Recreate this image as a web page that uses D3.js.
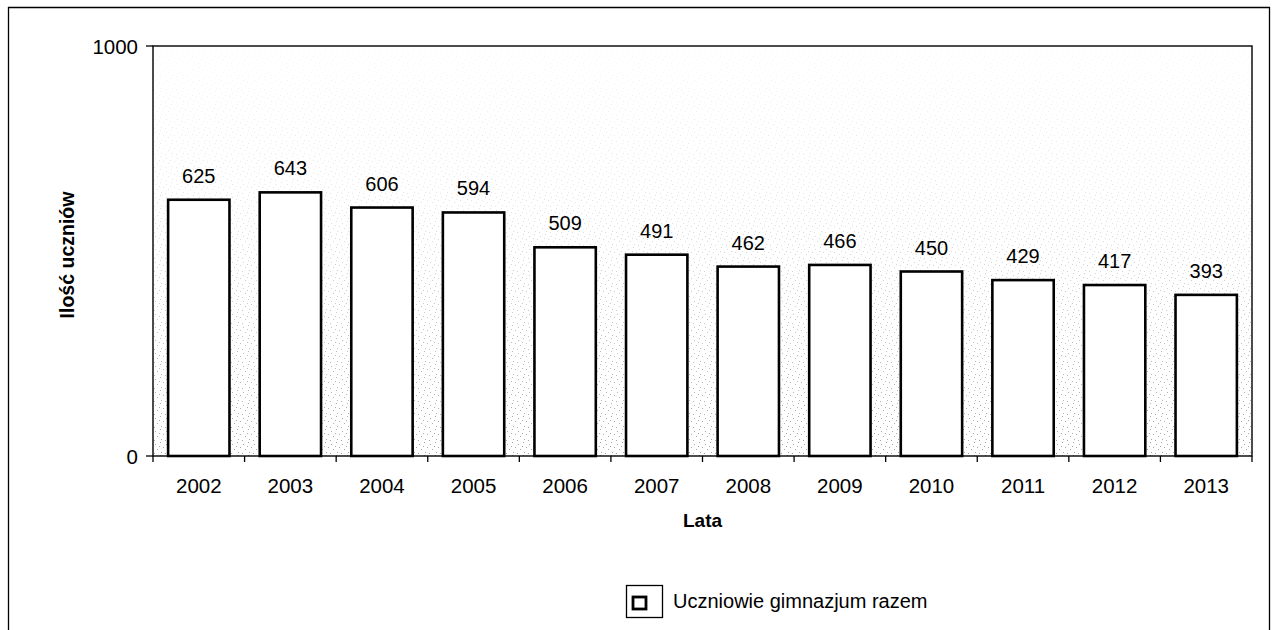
<!DOCTYPE html>
<html>
<head>
<meta charset="utf-8">
<script src="https://cdn.jsdelivr.net/npm/d3@7"></script>
<style>
  html, body { margin: 0; padding: 0; background: #fff; }
  svg { display: block; font-family: "Liberation Sans", Arial, sans-serif; }
</style>
</head>
<body>
<svg id="chart" width="1276" height="630"></svg>
<script>
const years = ["2002","2003","2004","2005","2006","2007","2008","2009","2010","2011","2012","2013"];
const students = [625, 643, 606, 594, 509, 491, 462, 466, 450, 429, 417, 393];
const yTicks = [0, 1000];
const seriesName = "Uczniowie gimnazjum razem";
const xTitle = "Lata";
const yTitle = "Ilość uczniów";

const svg = d3.select("#chart");
const W = 1276, H = 630;
const plot = { left: 153, right: 1252, top: 46, bottom: 456 };

const x = d3.scaleBand().domain(years).range([plot.left, plot.right]).paddingInner(0.33).paddingOuter(0.165);
const y = d3.scaleLinear().domain([0, 1000]).range([plot.bottom, plot.top]);

// outer frame (bottom edge outside the view)
svg.append("path")
  .attr("d", `M8.5,${H + 5} V7.5 H1269.5 V${H + 5}`)
  .attr("fill", "none").attr("stroke", "#000").attr("stroke-width", 1.3);

// stipple background
const defs = svg.append("defs");
const pat = defs.append("pattern").attr("id", "stip").attr("patternUnits", "userSpaceOnUse")
  .attr("width", 11).attr("height", 13);
const dots = [[1,2],[6,0],[9,5],[3,7],[7,10],[0,11],[5,4]];
pat.selectAll("rect").data(dots).join("rect")
  .attr("x", d => d[0]).attr("y", d => d[1]).attr("width", 1).attr("height", 1).attr("fill", "#9a9a9a");
const grad = defs.append("linearGradient").attr("id", "fadeg").attr("x1", 0).attr("x2", 0).attr("y1", 0).attr("y2", 1);
grad.append("stop").attr("offset", "0%").attr("stop-color", "#fff").attr("stop-opacity", 0.08);
grad.append("stop").attr("offset", "40%").attr("stop-color", "#fff").attr("stop-opacity", 0.3);
grad.append("stop").attr("offset", "100%").attr("stop-color", "#fff").attr("stop-opacity", 0.9);
const mask = defs.append("mask").attr("id", "fadem");
mask.append("rect").attr("x", plot.left).attr("y", plot.top)
  .attr("width", plot.right - plot.left).attr("height", plot.bottom - plot.top).attr("fill", "url(#fadeg)");
svg.append("rect").attr("x", plot.left).attr("y", plot.top)
  .attr("width", plot.right - plot.left).attr("height", plot.bottom - plot.top)
  .attr("fill", "url(#stip)").attr("mask", "url(#fadem)");

// plot frame
svg.append("rect").attr("x", plot.left).attr("y", plot.top)
  .attr("width", plot.right - plot.left).attr("height", plot.bottom - plot.top)
  .attr("fill", "none").attr("stroke", "#000").attr("stroke-width", 1.4);

// bars
svg.append("g").selectAll("rect").data(years).join("rect")
  .attr("x", (d) => x(d))
  .attr("y", (d, i) => y(students[i]))
  .attr("width", x.bandwidth())
  .attr("height", (d, i) => y(0) - y(students[i]))
  .attr("fill", "#fff").attr("stroke", "#000").attr("stroke-width", 2.6);

// value labels
svg.append("g").selectAll("text").data(years).join("text")
  .attr("x", d => x(d) + x.bandwidth() / 2)
  .attr("y", (d, i) => y(students[i]) - 17)
  .attr("text-anchor", "middle").attr("font-size", 20).attr("fill", "#000")
  .text((d, i) => students[i]);

// x axis ticks at band boundaries
const step = x.step();
const boundaries = d3.range(years.length + 1).map(i => plot.left + i * step);
svg.append("g").selectAll("line").data(boundaries).join("line")
  .attr("x1", d => d).attr("x2", d => d)
  .attr("y1", plot.bottom).attr("y2", plot.bottom + 6)
  .attr("stroke", "#000").attr("stroke-width", 1.3);
svg.append("g").selectAll("text").data(years).join("text")
  .attr("x", d => x(d) + x.bandwidth() / 2)
  .attr("y", 493)
  .attr("text-anchor", "middle").attr("font-size", 20.5).attr("fill", "#000")
  .text(d => d);

// y axis ticks
svg.append("g").selectAll("line").data(yTicks).join("line")
  .attr("x1", plot.left - 7).attr("x2", plot.left)
  .attr("y1", d => y(d)).attr("y2", d => y(d))
  .attr("stroke", "#000").attr("stroke-width", 1.3);
svg.append("g").selectAll("text").data(yTicks).join("text")
  .attr("x", 138).attr("y", d => y(d) + 7.5)
  .attr("text-anchor", "end").attr("font-size", 20.5).attr("fill", "#000")
  .text(d => d);

// axis titles
svg.append("text").attr("x", (plot.left + plot.right) / 2).attr("y", 527)
  .attr("text-anchor", "middle").attr("font-size", 19).attr("font-weight", "bold").text(xTitle);
svg.append("text").attr("transform", `translate(74,${(plot.top + plot.bottom) / 2 + 4}) rotate(-90)`)
  .attr("text-anchor", "middle").attr("font-size", 19.5).attr("font-weight", "bold").text(yTitle);

// legend
const lg = svg.append("g");
lg.append("rect").attr("x", 626.5).attr("y", 585.5).attr("width", 36).attr("height", 32)
  .attr("fill", "#fff").attr("stroke", "#000").attr("stroke-width", 1.3);
lg.append("rect").attr("x", 633).attr("y", 597).attr("width", 13).attr("height", 12)
  .attr("fill", "#fff").attr("stroke", "#000").attr("stroke-width", 2.8);
lg.append("text").attr("x", 673).attr("y", 608).attr("font-size", 20).text(seriesName);
</script>
</body>
</html>
